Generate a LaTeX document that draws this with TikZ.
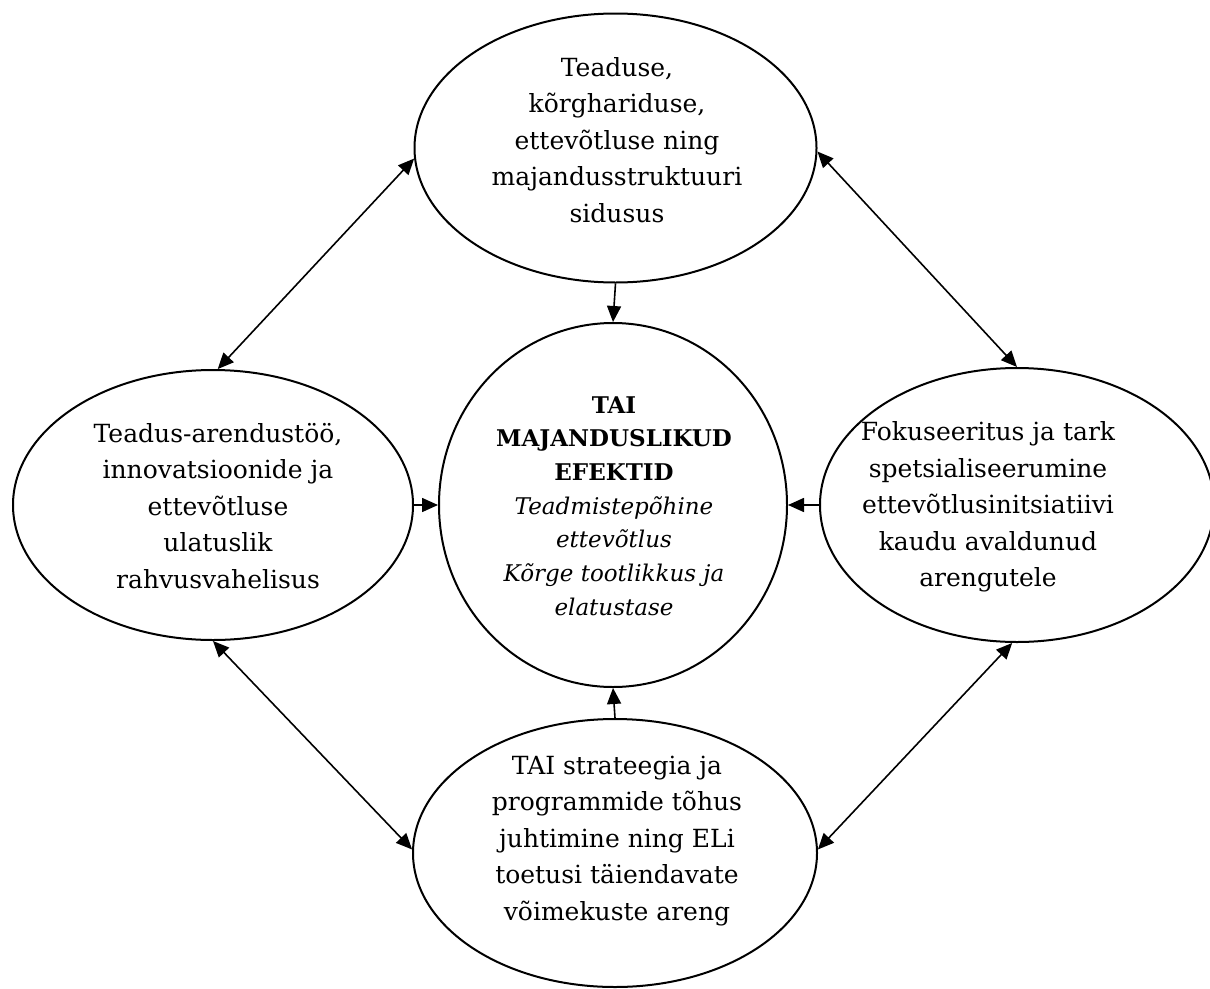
\documentclass[tikz,border=0pt]{standalone}
\usepackage{fontspec}
\setmainfont{DejaVu Serif}
\usetikzlibrary{shapes.geometric,arrows.meta}
\begin{document}
\begin{tikzpicture}[x=1pt,y=-1pt,
  ell/.style={draw, ellipse, line width=2pt, inner sep=0pt},
  txt/.style={align=center, inner sep=0pt, font=\fontsize{25}{36.5}\selectfont},
  ctxt/.style={align=center, inner sep=0pt, font=\fontsize{23}{33.7}\selectfont},
  conn/.style={line width=1.6pt, -{Triangle[length=16pt,width=14pt]}},
  dconn/.style={line width=1.6pt, {Triangle[length=16pt,width=14pt]}-{Triangle[length=16pt,width=14pt]}}]
\useasboundingbox (0,0) rectangle (1210,988);

\node[ell, minimum width=402pt, minimum height=269pt] (top) at (615.5,148) {};
\node[ell, minimum width=348pt, minimum height=364pt] (mid) at (613,505) {};
\node[ell, minimum width=400pt, minimum height=270pt] (left) at (213,505) {};
\node[ell, minimum width=394pt, minimum height=274pt] (right) at (1017,505) {};
\node[ell, minimum width=404pt, minimum height=268pt] (bot) at (615,853) {};

\node[txt] (ttop) at (617,140) {Teaduse,\\kõrghariduse,\\ettevõtluse ning\\majandusstruktuuri\\sidusus};
\node[ctxt] (tmid) at (614,506) {\textbf{TAI}\\\textbf{MAJANDUSLIKUD}\\\textbf{EFEKTID}\\\textit{Teadmistepõhine}\\\textit{ettevõtlus}\\\textit{Kõrge tootlikkus ja}\\\textit{elatustase}};
\node[txt] (tleft) at (218,506) {Teadus-arendustöö,\\innovatsioonide ja\\ettevõtluse\\ulatuslik\\rahvusvahelisus};
\node[txt] (tright) at (988,507) {Fokuseeritus ja tark\\spetsialiseerumine\\ettevõtlusinitsiatiivi\\kaudu avaldunud\\arengutele};
\node[txt] (tbot) at (617,841) {TAI strateegia ja\\programmide tõhus\\juhtimine ning ELi\\toetusi täiendavate\\võimekuste areng};

\draw[dconn] (top.183.4) -- (left.88.3);
\draw[dconn] (top.-1.4) -- (right.90);
\draw[dconn] (left.270) -- (bot.179);
\draw[dconn] (right.268.3) -- (bot.1);
\draw[conn] (top.south) -- (mid.north);
\draw[conn] (bot.north) -- (mid.south);
\draw[conn] (left.east) -- (mid.west);
\draw[conn] (right.west) -- (mid.east);
\end{tikzpicture}
\end{document}
